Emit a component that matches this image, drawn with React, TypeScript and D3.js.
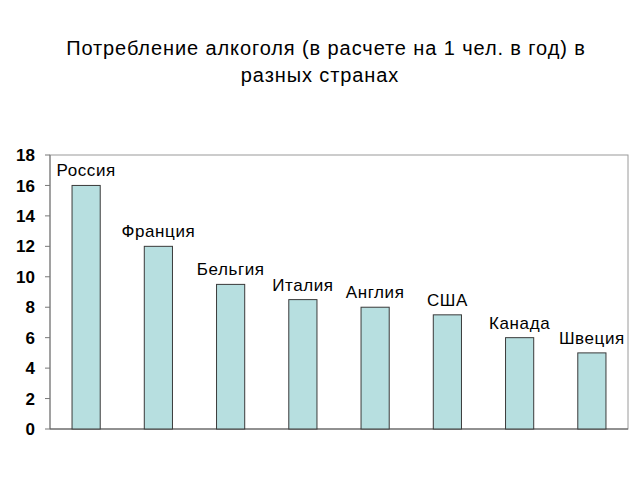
import React from "react";
import * as d3 from "d3";

const countries = ["Россия", "Франция", "Бельгия", "Италия", "Англия", "США", "Канада", "Швеция"];
const values = [16, 12, 9.5, 8.5, 8, 7.5, 6, 5];
const yTicks = [0, 2, 4, 6, 8, 10, 12, 14, 16, 18];
const titleLines = ["Потребление алкоголя (в расчете на 1 чел. в год) в", "разных странах"];

export default function App() {
  const W = 640, H = 480;
  const left = 50, right = 628, top = 155, bottom = 429;
  const x = d3.scaleBand<string>().domain(countries).range([left, right]).paddingInner(0.61).paddingOuter(0.305);
  const y = d3.scaleLinear().domain([0, 18]).range([bottom, top]);
  const font = "Arial, 'Liberation Sans', sans-serif";
  return (
    <svg width={W} height={H} style={{ position: "absolute", left: 0, top: 0, background: "#fff" }}>
      {titleLines.map((t, i) => (
        <text key={i} x={i === 0 ? 326 : 320} y={55 + i * 27} textAnchor="middle" fontFamily={font} fontSize={20} letterSpacing={0.9} fill="#000">{t}</text>
      ))}
      <rect x={left} y={top} width={right - left} height={bottom - top} fill="none" stroke="#9a9a9a" strokeWidth={1} />
      {yTicks.map((t) => (
        <g key={t}>
          <line x1={left - 5} x2={left} y1={y(t)} y2={y(t)} stroke="#777" />
          <text x={35} y={y(t)} dy="0.36em" textAnchor="end" fontFamily={font} fontSize={17} fontWeight="bold" fill="#000">{t}</text>
        </g>
      ))}
      <line x1={left} x2={left} y1={top} y2={bottom} stroke="#777" />
      <line x1={left} x2={right} y1={bottom} y2={bottom} stroke="#555" />
      {countries.map((c, i) => (
        <g key={c}>
          <rect x={x(c)!} y={y(values[i])} width={x.bandwidth()} height={bottom - y(values[i])} fill="#b7dfe0" stroke="#3a3a3a" strokeWidth={1} />
          <text x={x(c)! + x.bandwidth() / 2} y={y(values[i]) - 9} textAnchor="middle" fontFamily={font} fontSize={17} letterSpacing={0.6} fill="#000">{c}</text>
        </g>
      ))}
    </svg>
  );
}
